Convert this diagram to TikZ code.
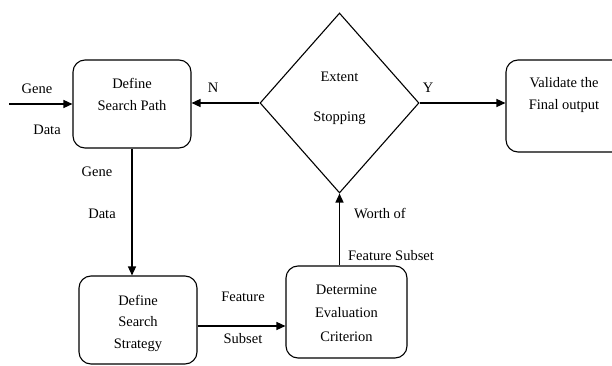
\documentclass[tikz,border=0pt]{standalone}
\usepackage{fontspec}
\setmainfont{Liberation Serif}
\usetikzlibrary{shapes.geometric,arrows.meta}
\begin{document}
\begin{tikzpicture}[x=1pt,y=-1pt,
  box/.style={draw,line width=1.1pt,rounded corners=12pt,align=center,inner sep=0pt},
  arr/.style={line width=1.4pt,-{Triangle[length=9pt,width=8pt]}},
  lbl/.style={inner sep=0pt,font=\fontsize{14.5}{17}\selectfont},
  every node/.append style={font=\fontsize{14.5}{17}\selectfont}]
\useasboundingbox (0,0) rectangle (612,366);
\clip (0,0) rectangle (612,366);
\node[box,minimum width=118pt,minimum height=88pt] (dsp) at (132,104) {};
\node[lbl] (t1) at (132,83) {Define};
\node[lbl] (t2) at (132,106) {Search Path};
\node[draw,line width=1.1pt,diamond,minimum width=159pt,minimum height=180pt,inner sep=0pt] (dia) at (339.5,103) {};
\node[lbl] (t3) at (339.5,77) {Extent};
\node[lbl] (t4) at (339.5,118) {Stopping};
\node[box,minimum width=118pt,minimum height=92pt] (val) at (565,106) {};
\node[lbl] (t5) at (564,83) {Validate the};
\node[lbl] (t6) at (564,106) {Final output};
\node[box,minimum width=118pt,minimum height=88pt] (dss) at (138,320) {};
\node[lbl] (t7) at (138,300) {Define};
\node[lbl] (t8) at (138,322) {Search};
\node[lbl] (t9) at (138,345) {Strategy};
\node[box,minimum width=121pt,minimum height=92pt] (det) at (346.5,312) {};
\node[lbl] (t10) at (346.5,290) {Determine};
\node[lbl] (t11) at (346.5,313) {Evaluation};
\node[lbl] (t12) at (346.5,337) {Criterion};
\coordinate (in) at (9,104);
\draw[arr] (in) -- (dsp.west);
\draw[arr] (dia.west) -- (dia.west -| dsp.east);
\draw[arr] (dia.east) -- (dia.east -| val.west);
\draw[arr] (dsp.south) -- (dsp.south |- dss.north);
\draw[arr] ([yshift=-6pt]dss.east) -- ([yshift=-6pt]dss.east -| det.west);
\draw[arr] (det.north -| dia.south) -- (dia.south);
\node[lbl] (l1) at (37,89) {Gene};
\node[lbl] (l2) at (47,130) {Data};
\node[lbl] (l3) at (213,88) {N};
\node[lbl] (l4) at (428,88) {Y};
\node[lbl] (l5) at (97,172) {Gene};
\node[lbl] (l6) at (102,214) {Data};
\node[lbl] (l7) at (243,297) {Feature};
\node[lbl] (l8) at (243,339) {Subset};
\node[lbl] (l9) at (380,214) {Worth of};
\node[lbl] (l10) at (391,256) {Feature Subset};
\end{tikzpicture}
\end{document}
